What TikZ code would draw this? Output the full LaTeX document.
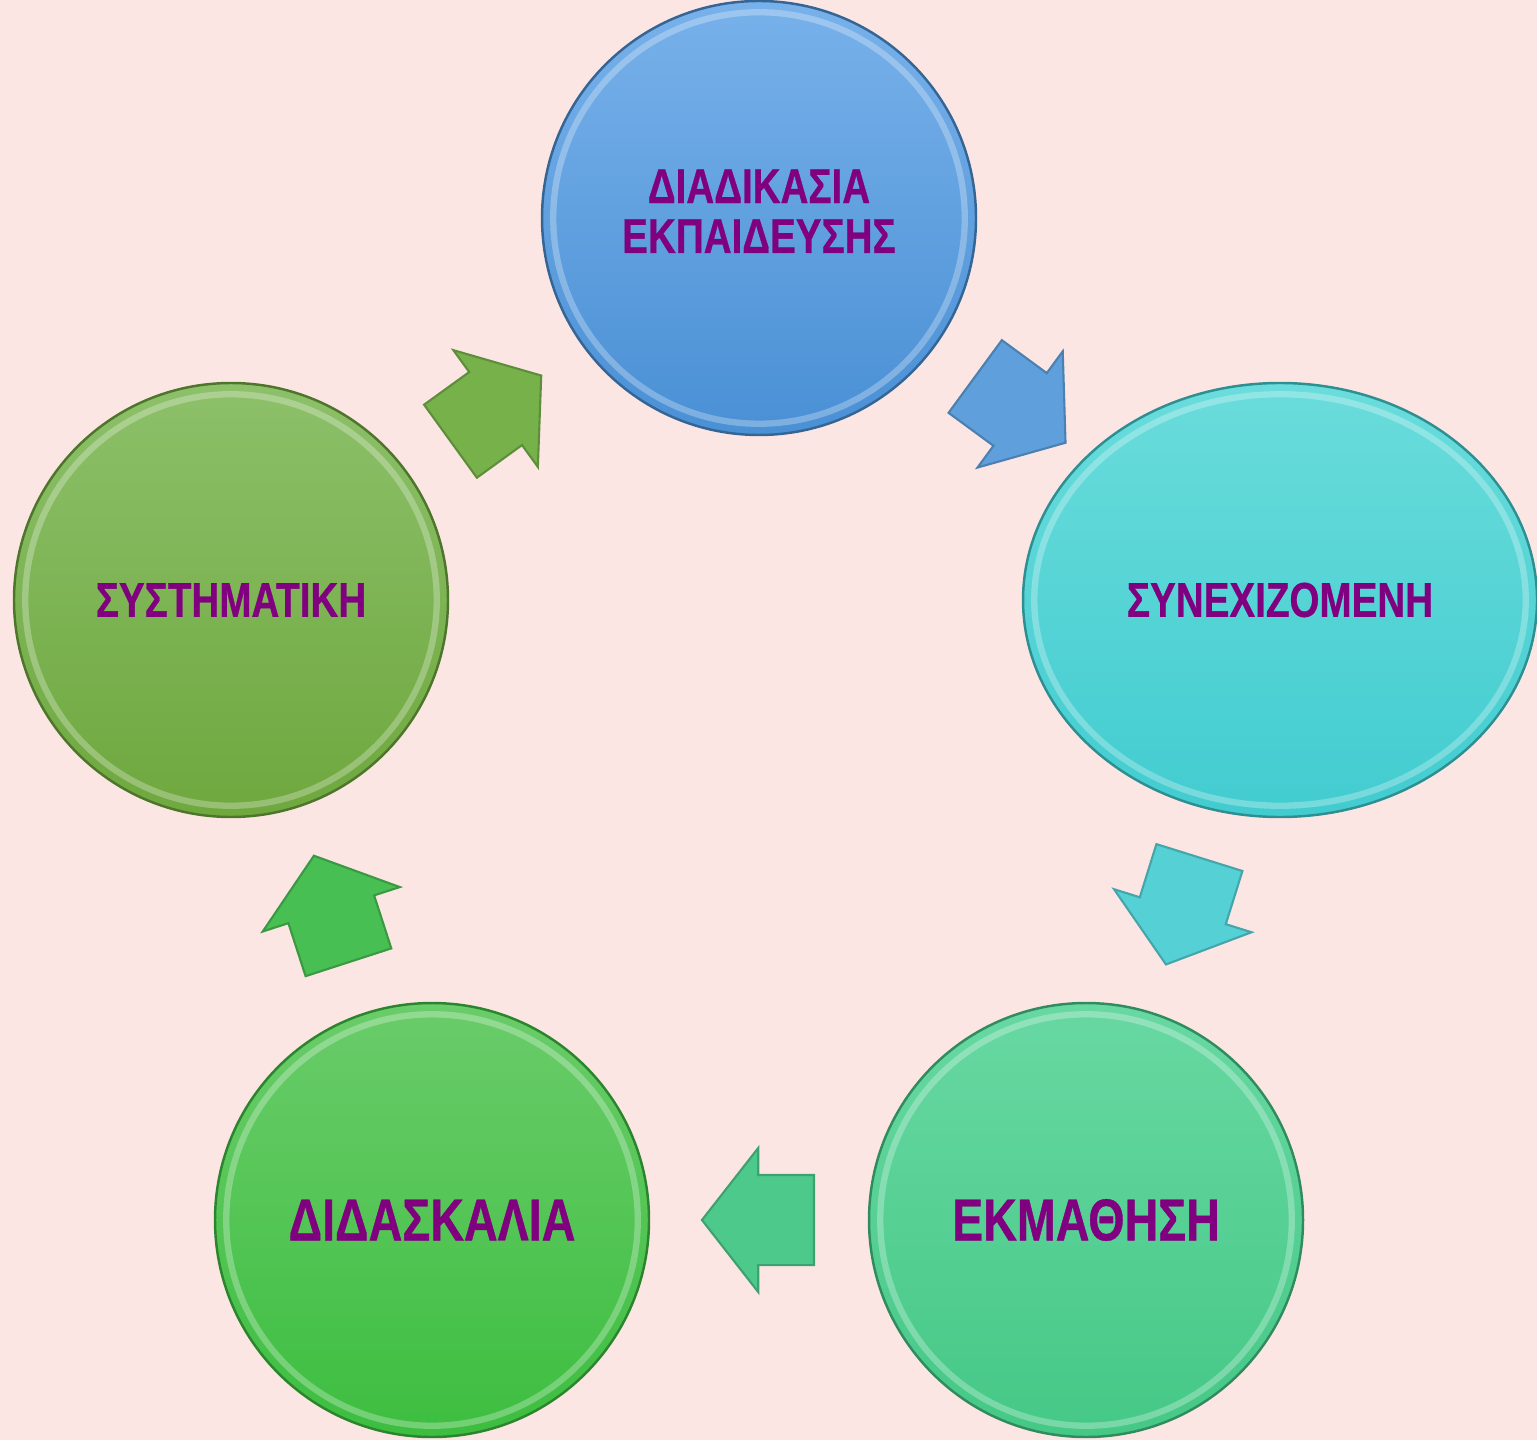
\documentclass[tikz,border=0pt]{standalone}
\usepackage{fontspec}
\usepackage{xcolor}
\usepackage{tikz}
\usetikzlibrary{calc,shapes.arrows,shapes.geometric}
\newfontfamily\labelfont{Liberation Sans}[FakeStretch=0.79,FakeBold=0.6]
\definecolor{bg}{HTML}{FCE6E4}
\definecolor{ink}{HTML}{800080}
\definecolor{blueT}{HTML}{78B1EA}
\definecolor{blueB}{HTML}{4A90D5}
\definecolor{cyanT}{HTML}{6ADCDB}
\definecolor{cyanB}{HTML}{42CCD0}
\definecolor{mintT}{HTML}{68D8A2}
\definecolor{mintB}{HTML}{45C886}
\definecolor{greenT}{HTML}{6ACC6A}
\definecolor{greenB}{HTML}{3DBE40}
\definecolor{oliveT}{HTML}{8DC06A}
\definecolor{oliveB}{HTML}{6EA83E}
\definecolor{arrowblue}{HTML}{5FA0DC}
\definecolor{arrowcyan}{HTML}{55D0D4}
\definecolor{arrowmint}{HTML}{4DC98C}
\definecolor{arrowgreen}{HTML}{48BF52}
\definecolor{arrowolive}{HTML}{76B14A}
\tikzset{
  rim/.style={path picture={
    \draw[white, opacity=0.28, line width=1.8pt]
      let \p1=($(path picture bounding box.north east)-(path picture bounding box.center)$) in
      (path picture bounding box.center) ellipse ({\x1-3.2pt} and {\y1-3.2pt});}},
  disc/.style 2 args={circle, minimum size=4.34cm, inner sep=0pt, top color=#1, bottom color=#2,
    draw=#2!70!black, line width=0.7pt, rim},
  oval/.style 2 args={ellipse, minimum width=5.14cm, minimum height=4.34cm, inner sep=0pt,
    top color=#1, bottom color=#2, draw=#2!70!black, line width=0.7pt, rim},
  lab/.style={text=ink, align=center, font=\labelfont\bfseries\fontsize{13.9pt}{14.2pt}\selectfont},
  biglab/.style={text=ink, align=center, font=\labelfont\bfseries\fontsize{16.8pt}{18pt}\selectfont},
  flow/.style={single arrow, fill=#1, draw=#1!80!black, line width=0.6pt,
    minimum height=1.12cm, inner xsep=0pt, inner ysep=0.44cm,
    single arrow head extend=0.27cm, single arrow tip angle=104, single arrow head indent=0pt,
    pos=0, anchor=tail, sloped, allow upside down},
}
\begin{document}
\begin{tikzpicture}
  \fill[bg] (0,0) rectangle (15.37,14.40);
  \useasboundingbox (0,0) rectangle (15.37,14.40);

  \node[disc={blueT}{blueB}, lab] (process) at (7.59,12.22) {\raisebox{3pt}{\begin{tabular}{@{}c@{}}ΔΙΑΔΙΚΑΣΙΑ\\ΕΚΠΑΙΔΕΥΣΗΣ\end{tabular}}};
  \node[oval={cyanT}{cyanB}, lab] (ongoing) at (12.80,8.40) {ΣΥΝΕΧΙΖΟΜΕΝΗ};
  \node[disc={mintT}{mintB}, biglab] (learning) at (10.86,2.20) {ΕΚΜΑΘΗΣΗ};
  \node[disc={greenT}{greenB}, biglab] (teaching) at (4.32,2.20) {ΔΙΔΑΣΚΑΛΙΑ};
  \node[disc={oliveT}{oliveB}, lab] (systematic) at (2.31,8.40) {ΣΥΣΤΗΜΑΤΙΚΗ};

  % each arrow starts half its length before the middle of the two centres
  \path ($(process.center)!0.5!(ongoing.center)!0.56cm!(process.center)$) -- node[flow=arrowblue] (a1) {} (ongoing.center);
  \path ($(ongoing.center)!0.5!(learning.center)!0.56cm!(ongoing.center)$) -- node[flow=arrowcyan] (a2) {} (learning.center);
  \path ($(learning.center)!0.5!(teaching.center)!0.56cm!(learning.center)$) -- node[flow=arrowmint] (a3) {} (teaching.center);
  \path ($(teaching.center)!0.5!(systematic.center)!0.56cm!(teaching.center)$) -- node[flow=arrowgreen] (a4) {} (systematic.center);
  \path ($(systematic.center)!0.5!(process.center)!0.56cm!(systematic.center)$) -- node[flow=arrowolive] (a5) {} (process.center);
\end{tikzpicture}
\end{document}
